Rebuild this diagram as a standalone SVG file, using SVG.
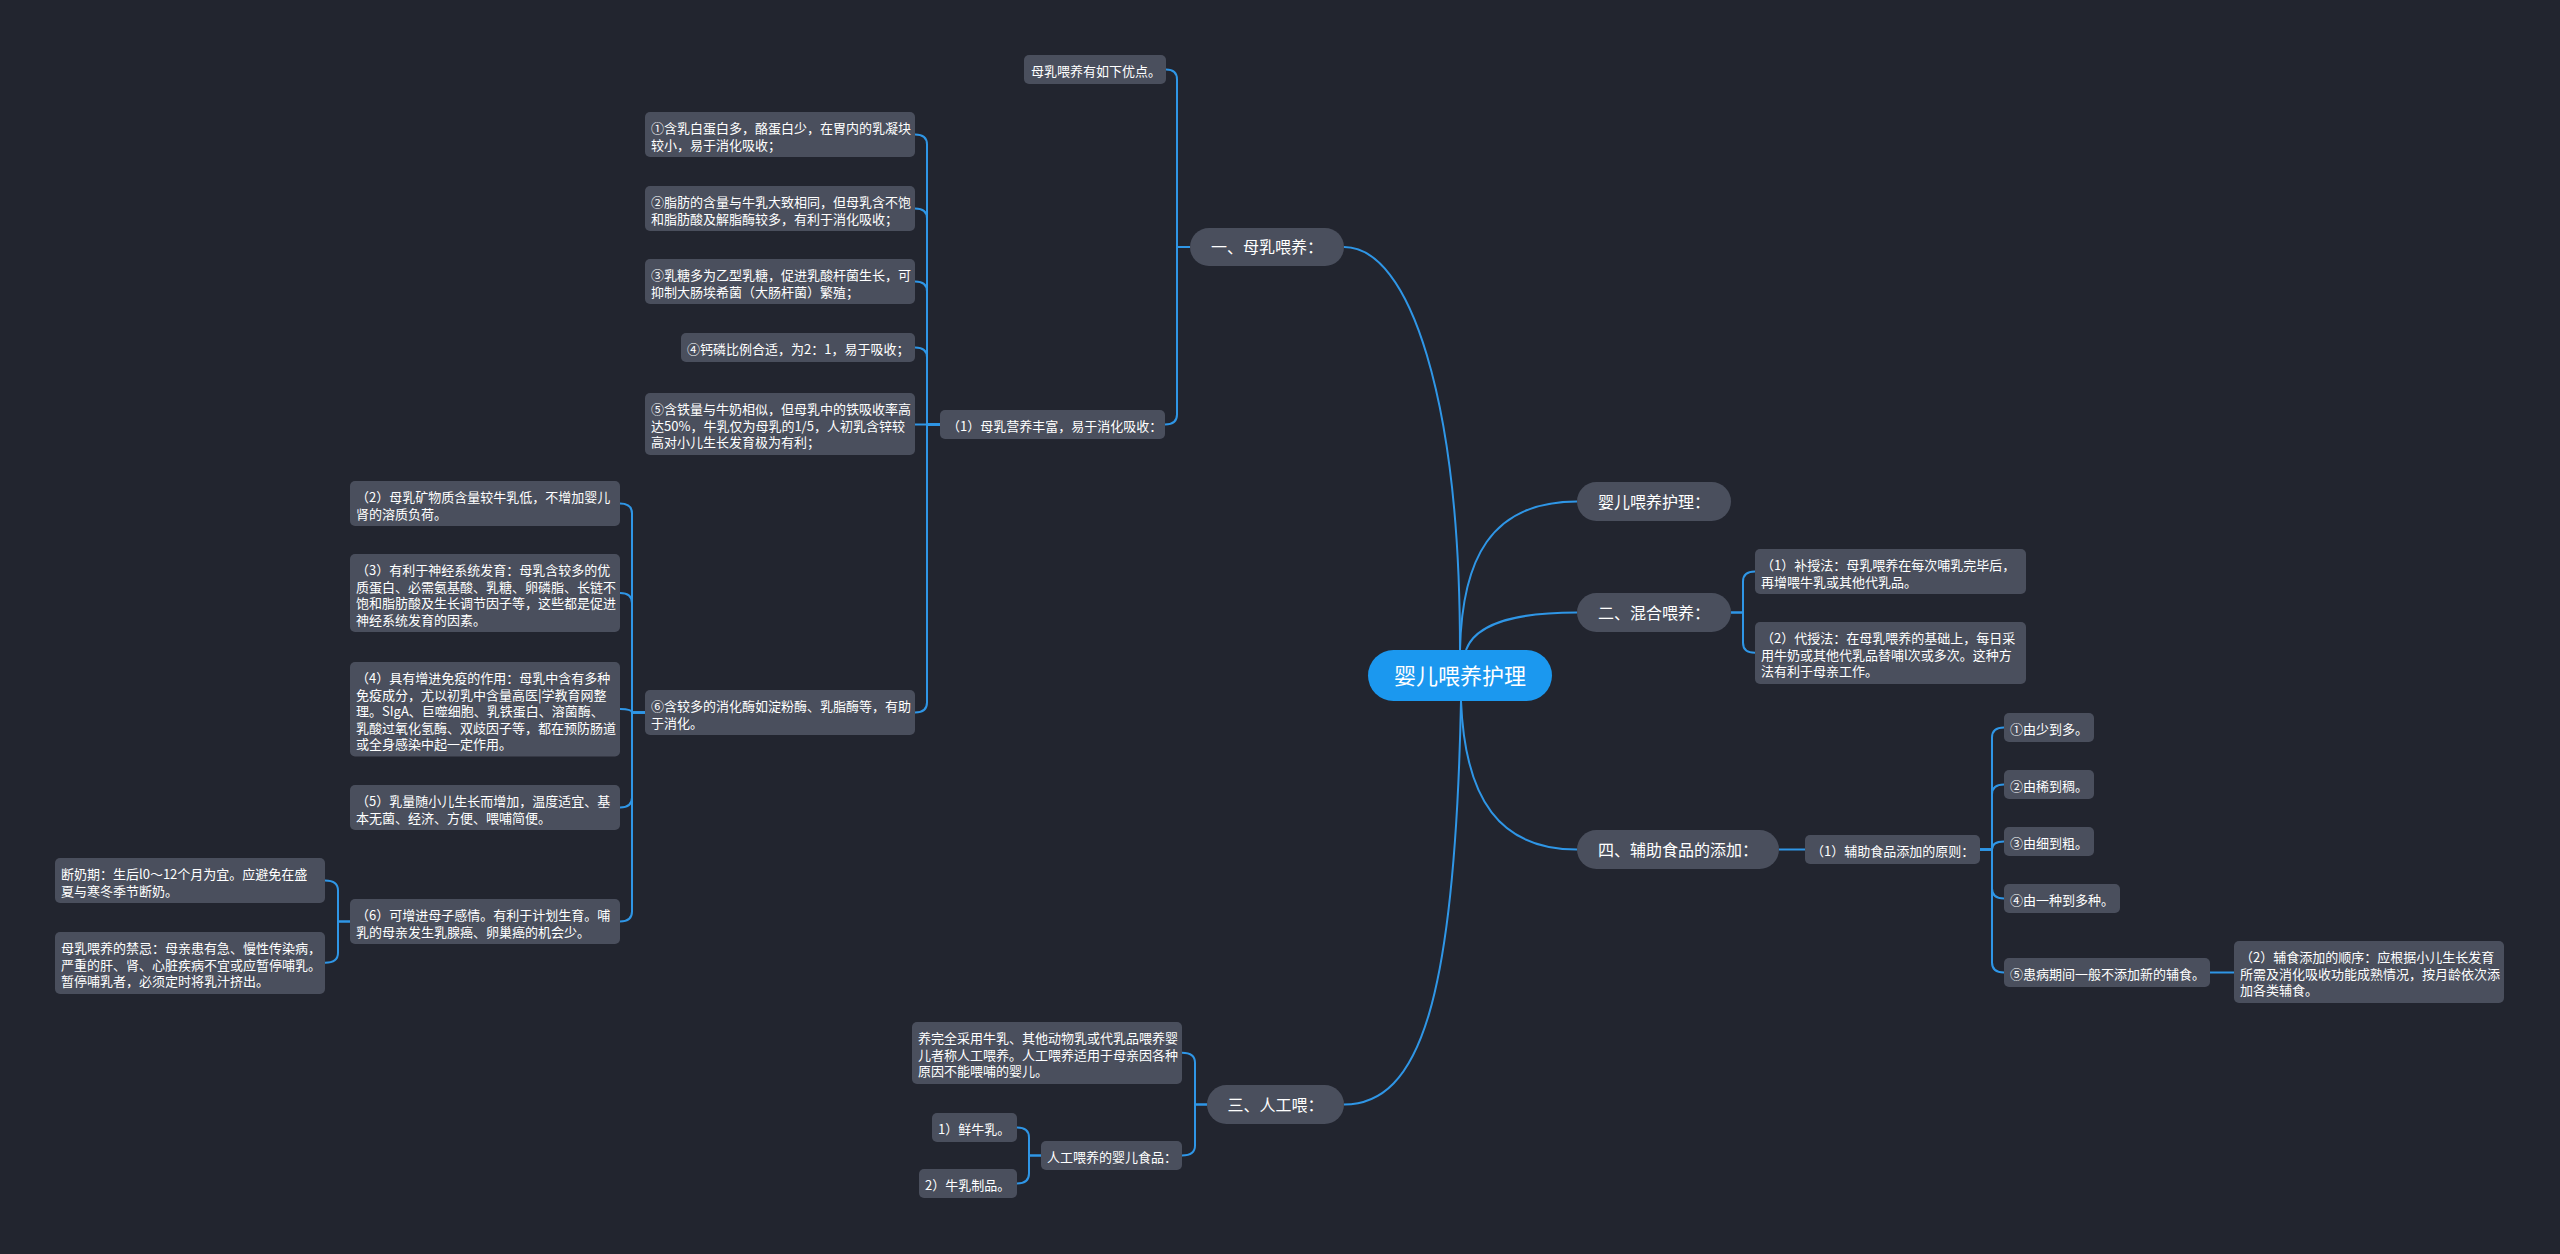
<svg xmlns="http://www.w3.org/2000/svg" width="2560" height="1254" viewBox="0 0 2560 1254">
<style>
.bg{fill:#22252f}
.n rect{fill:#4a4f5d}
.n text{fill:#ffffff;font-family:"Noto Sans CJK SC","Microsoft YaHei",sans-serif;font-size:13px}
.pl rect{fill:#4a4f5d}
.pl text{fill:#ffffff;font-family:"Noto Sans CJK SC","Microsoft YaHei",sans-serif;font-size:16px;text-anchor:middle}
.root rect{fill:#1b98ef}
.root text{fill:#ffffff;font-family:"Noto Sans CJK SC","Microsoft YaHei",sans-serif;font-size:22px;text-anchor:middle}
.c path{fill:none;stroke:#2f96e6;stroke-width:2}
</style>
<rect class="bg" x="0" y="0" width="2560" height="1254"/>

<g class="c" id="connectors">
<path d="M1460 650 C1460 400 1410 247 1344 247"/>
<path d="M1460 650 C1462 560 1490 501.5 1577 501.5"/>
<path d="M1466 650 C1475 625 1510 612.5 1577 612.5"/>
<path d="M1461 701 C1465 800 1500 849.5 1577 849.5"/>
<path d="M1461 701 C1455 1000 1420 1104.5 1344 1104.5"/>

<path d="M1190 247 H1177 V79.5 Q1177 69.5 1166 69.5"/>
<path d="M1190 247 H1177 V414.5 Q1177 424.5 1165 424.5"/>

<path d="M940 424.5 H927 V144.5 Q927 134.5 915 134.5"/>
<path d="M940 424.5 H927 V218.5 Q927 208.5 915 208.5"/>
<path d="M940 424.5 H927 V291.5 Q927 281.5 915 281.5"/>
<path d="M940 424.5 H927 V357.5 Q927 347.5 915 347.5"/>
<path d="M940 424.5 H915"/>
<path d="M940 424.5 H927 V702.5 Q927 712.5 915 712.5"/>

<path d="M645 712.5 H632 V513.5 Q632 503.5 620 503.5"/>
<path d="M645 712.5 H632 V603 Q632 593 620 593"/>
<path d="M645 712.5 H632 Q632 709 620 709"/>
<path d="M645 712.5 H632 V797.5 Q632 807.5 620 807.5"/>
<path d="M645 712.5 H632 V911.5 Q632 921.5 620 921.5"/>

<path d="M350 921.5 H338 V890.5 Q338 880.5 325 880.5"/>
<path d="M350 921.5 H338 V952.75 Q338 962.75 325 962.75"/>

<path d="M1207 1104.5 H1195 V1062.75 Q1195 1052.75 1182 1052.75"/>
<path d="M1207 1104.5 H1195 V1145.5 Q1195 1155.5 1182 1155.5"/>

<path d="M1041 1155.5 H1029 V1137.5 Q1029 1127.5 1017 1127.5"/>
<path d="M1041 1155.5 H1029 V1173.5 Q1029 1183.5 1017 1183.5"/>

<path d="M1731 612.5 H1743 V581.5 Q1743 571.5 1755 571.5"/>
<path d="M1731 612.5 H1743 V642.75 Q1743 652.75 1755 652.75"/>

<path d="M1779 849.5 H1805"/>
<path d="M1980 849.5 H1992 V737.5 Q1992 727.5 2004 727.5"/>
<path d="M1980 849.5 H1992 V794.5 Q1992 784.5 2004 784.5"/>
<path d="M1980 849.5 H1992 Q1992 841.5 2004 841.5"/>
<path d="M1980 849.5 H1992 V888.5 Q1992 898.5 2004 898.5"/>
<path d="M1980 849.5 H1992 V962.5 Q1992 972.5 2004 972.5"/>
<path d="M2210 972.5 H2234"/>
</g>

<g class="root" id="root"><rect x="1368" y="650" width="184" height="51" rx="25.5"/><text x="1460" y="684">婴儿喂养护理</text></g>

<g class="pl" id="n-yi"><rect x="1190" y="228" width="154" height="38" rx="19"/><text x="1267" y="253">一、母乳喂养：</text></g>
<g class="pl" id="n-huli"><rect x="1577" y="482" width="154" height="39" rx="19.5"/><text x="1654" y="507.5">婴儿喂养护理：</text></g>
<g class="pl" id="n-er"><rect x="1577" y="593" width="154" height="39" rx="19.5"/><text x="1654" y="618.5">二、混合喂养：</text></g>
<g class="pl" id="n-si"><rect x="1577" y="830" width="202" height="39" rx="19.5"/><text x="1678" y="855.5">四、辅助食品的添加：</text></g>
<g class="pl" id="n-san"><rect x="1207" y="1085" width="137" height="39" rx="19.5"/><text x="1275.5" y="1110.5">三、人工喂：</text></g>

<g class="n" id="n-youdian"><rect x="1024" y="55" width="142" height="29" rx="5"/><text x="1031" y="76">母乳喂养有如下优点。</text></g>
<g class="n" id="n-yingyang"><rect x="940" y="410" width="225" height="29" rx="5"/><text x="947" y="431">（1）母乳营养丰富，易于消化吸收：</text></g>

<g class="n" id="n-a1"><rect x="645" y="112" width="270" height="45" rx="5"/><text><tspan x="651" y="133">①含乳白蛋白多，酪蛋白少，在胃内的乳凝块</tspan><tspan x="651" y="149.5">较小，易于消化吸收；</tspan></text></g>
<g class="n" id="n-a2"><rect x="645" y="186" width="270" height="45" rx="5"/><text><tspan x="651" y="207">②脂肪的含量与牛乳大致相同，但母乳含不饱</tspan><tspan x="651" y="223.5">和脂肪酸及解脂酶较多，有利于消化吸收；</tspan></text></g>
<g class="n" id="n-a3"><rect x="645" y="259" width="270" height="45" rx="5"/><text><tspan x="651" y="280">③乳糖多为乙型乳糖，促进乳酸杆菌生长，可</tspan><tspan x="651" y="296.5">抑制大肠埃希菌（大肠杆菌）繁殖；</tspan></text></g>
<g class="n" id="n-a4"><rect x="681" y="333" width="234" height="29" rx="5"/><text x="687" y="354">④钙磷比例合适，为2：1，易于吸收；</text></g>
<g class="n" id="n-a5"><rect x="645" y="393" width="270" height="62" rx="5"/><text><tspan x="651" y="414">⑤含铁量与牛奶相似，但母乳中的铁吸收率高</tspan><tspan x="651" y="430.5">达50%，牛乳仅为母乳的1/5，人初乳含锌较</tspan><tspan x="651" y="447">高对小儿生长发育极为有利；</tspan></text></g>
<g class="n" id="n-a6"><rect x="645" y="690" width="270" height="45" rx="5"/><text><tspan x="651" y="711">⑥含较多的消化酶如淀粉酶、乳脂酶等，有助</tspan><tspan x="651" y="727.5">于消化。</tspan></text></g>

<g class="n" id="n-b2"><rect x="350" y="481" width="270" height="45" rx="5"/><text><tspan x="356" y="502">（2）母乳矿物质含量较牛乳低，不增加婴儿</tspan><tspan x="356" y="518.5">肾的溶质负荷。</tspan></text></g>
<g class="n" id="n-b3"><rect x="350" y="554" width="270" height="78" rx="5"/><text><tspan x="356" y="575">（3）有利于神经系统发育：母乳含较多的优</tspan><tspan x="356" y="591.5">质蛋白、必需氨基酸、乳糖、卵磷脂、长链不</tspan><tspan x="356" y="608">饱和脂肪酸及生长调节因子等，这些都是促进</tspan><tspan x="356" y="624.5">神经系统发育的因素。</tspan></text></g>
<g class="n" id="n-b4"><rect x="350" y="662" width="270" height="94.5" rx="5"/><text><tspan x="356" y="683">（4）具有增进免疫的作用：母乳中含有多种</tspan><tspan x="356" y="699.5">免疫成分，尤以初乳中含量高医|学教育网整</tspan><tspan x="356" y="716">理。SIgA、巨噬细胞、乳铁蛋白、溶菌酶、</tspan><tspan x="356" y="732.5">乳酸过氧化氢酶、双歧因子等，都在预防肠道</tspan><tspan x="356" y="749">或全身感染中起一定作用。</tspan></text></g>
<g class="n" id="n-b5"><rect x="350" y="785" width="270" height="45" rx="5"/><text><tspan x="356" y="806">（5）乳量随小儿生长而增加，温度适宜、基</tspan><tspan x="356" y="822.5">本无菌、经济、方便、喂哺简便。</tspan></text></g>
<g class="n" id="n-b6"><rect x="350" y="899" width="270" height="45" rx="5"/><text><tspan x="356" y="920">（6）可增进母子感情。有利于计划生育。哺</tspan><tspan x="356" y="936.5">乳的母亲发生乳腺癌、卵巢癌的机会少。</tspan></text></g>

<g class="n" id="n-duannai"><rect x="55" y="858" width="270" height="45" rx="5"/><text><tspan x="61" y="879">断奶期：生后l0～12个月为宜。应避免在盛</tspan><tspan x="61" y="895.5">夏与寒冬季节断奶。</tspan></text></g>
<g class="n" id="n-jinji"><rect x="55" y="932" width="270" height="62" rx="5"/><text><tspan x="61" y="953">母乳喂养的禁忌：母亲患有急、慢性传染病，</tspan><tspan x="61" y="969.5">严重的肝、肾、心脏疾病不宜或应暂停哺乳。</tspan><tspan x="61" y="986">暂停哺乳者，必须定时将乳汁挤出。</tspan></text></g>

<g class="n" id="n-rengong"><rect x="912" y="1022" width="270" height="62" rx="5"/><text><tspan x="918" y="1043">养完全采用牛乳、其他动物乳或代乳品喂养婴</tspan><tspan x="918" y="1059.5">儿者称人工喂养。人工喂养适用于母亲因各种</tspan><tspan x="918" y="1076">原因不能喂哺的婴儿。</tspan></text></g>
<g class="n" id="n-shipin"><rect x="1041" y="1141" width="141" height="29" rx="5"/><text x="1047" y="1162">人工喂养的婴儿食品：</text></g>
<g class="n" id="n-xian"><rect x="932" y="1113" width="85" height="29" rx="5"/><text x="938" y="1134">1）鲜牛乳。</text></g>
<g class="n" id="n-zhipin"><rect x="919" y="1169" width="98" height="29" rx="5"/><text x="925" y="1190">2）牛乳制品。</text></g>

<g class="n" id="n-bushou"><rect x="1755" y="549" width="271" height="45" rx="5"/><text><tspan x="1761" y="570">（1）补授法：母乳喂养在每次哺乳完毕后，</tspan><tspan x="1761" y="586.5">再增喂牛乳或其他代乳品。</tspan></text></g>
<g class="n" id="n-daishou"><rect x="1755" y="622" width="271" height="62" rx="5"/><text><tspan x="1761" y="643">（2）代授法：在母乳喂养的基础上，每日采</tspan><tspan x="1761" y="659.5">用牛奶或其他代乳品替哺l次或多次。这种方</tspan><tspan x="1761" y="676">法有利于母亲工作。</tspan></text></g>

<g class="n" id="n-yuanze"><rect x="1805" y="835" width="175" height="29" rx="5"/><text x="1811" y="856">（1）辅助食品添加的原则：</text></g>
<g class="n" id="n-c1"><rect x="2004" y="713" width="90" height="29" rx="5"/><text x="2010" y="734">①由少到多。</text></g>
<g class="n" id="n-c2"><rect x="2004" y="770" width="90" height="29" rx="5"/><text x="2010" y="791">②由稀到稠。</text></g>
<g class="n" id="n-c3"><rect x="2004" y="827" width="90" height="29" rx="5"/><text x="2010" y="848">③由细到粗。</text></g>
<g class="n" id="n-c4"><rect x="2004" y="884" width="116" height="29" rx="5"/><text x="2010" y="905">④由一种到多种。</text></g>
<g class="n" id="n-c5"><rect x="2004" y="958" width="206" height="29" rx="5"/><text x="2010" y="979">⑤患病期间一般不添加新的辅食。</text></g>
<g class="n" id="n-shunxu"><rect x="2234" y="941" width="270" height="62" rx="5"/><text><tspan x="2240" y="962">（2）辅食添加的顺序：应根据小儿生长发育</tspan><tspan x="2240" y="978.5">所需及消化吸收功能成熟情况，按月龄依次添</tspan><tspan x="2240" y="995">加各类辅食。</tspan></text></g>
</svg>
